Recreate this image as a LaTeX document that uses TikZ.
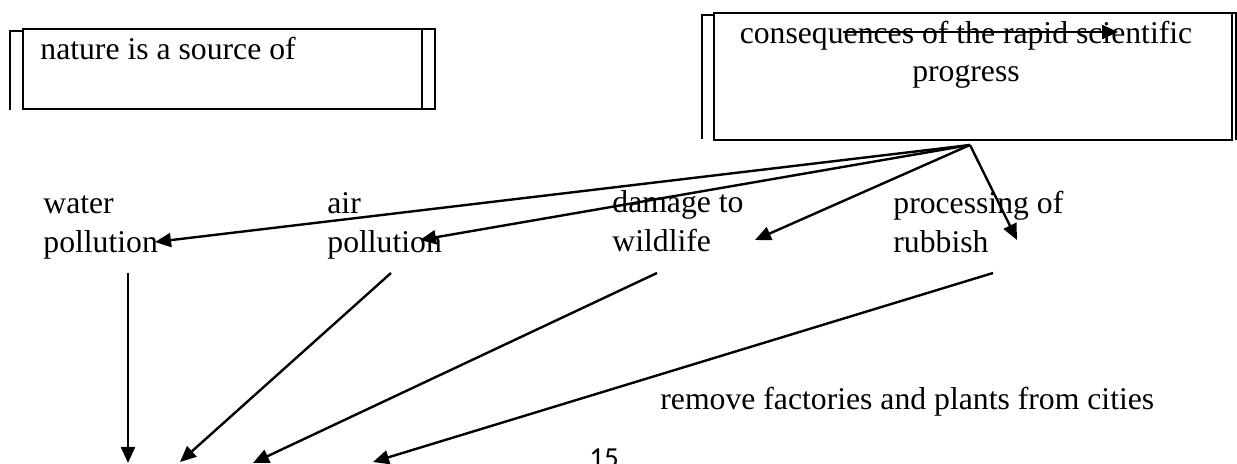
\documentclass[tikz,border=0pt]{standalone}
\usepackage{fontspec}
\setmainfont{Liberation Serif}
\newfontfamily\pagefont{Carlito}
\usetikzlibrary{arrows.meta}
\begin{document}
\begin{tikzpicture}[x=0.5pt,y=-0.5pt,
  boxline/.style={draw=black,line width=1.1pt},
  thinline/.style={draw=black,line width=0.9pt},
  conn/.style={draw=black,line width=1.2pt,-{Triangle[length=8pt,width=7pt]}},
  lbl/.style={inner sep=0pt,anchor=base west,align=left,font=\fontsize{15.85}{19.5}\selectfont},
  clbl/.style={inner sep=0pt,anchor=base,align=center,font=\fontsize{15.85}{19}\selectfont}]
\useasboundingbox (0,0) rectangle (1237,464);
% left box
\draw[boxline] (23,29) rectangle (435,109);
\draw[boxline] (23,29) -- (435,29);
\draw[thinline] (422,29) -- (422,109);
\draw[thinline] (23,31) -- (10,31) -- (10,110);
\node[lbl] (nature) at (40,60) {nature is a source of};
% right box
\draw[boxline] (714,13) rectangle (1232,140);
\draw[thinline] (1232,13) -- (1237,13) (1236,13) -- (1236,140);
\draw[thinline] (714,15) -- (702,15) -- (702,139);
\node[clbl] (cons) at (966,82) {consequences of the rapid scientific\\progress};
% labels
\node[lbl] (water) at (43,253) {water\\pollution};
\node[lbl] (air) at (327,253) {air\\pollution};
\node[lbl] (damage) at (612,252) {damage to\\wildlife};
\node[lbl] (proc) at (893,253) {processing of\\rubbish};
\node[lbl] (remove) at (660,410) {remove factories and plants from cities};
\node[inner sep=0pt,anchor=base west,font=\pagefont\fontsize{14.5}{17}\selectfont] (page) at (589,468) {15};
% coordinates
\coordinate (apex) at (970,145);
\coordinate (twater) at (155,242);
\coordinate (tair) at (420,240);
\coordinate (twild) at (755,240);
\coordinate (trub) at (1017,240);
\coordinate (sa) at (843,32);
\coordinate (sb) at (1118,32);
\coordinate (w1) at (128,273);
\coordinate (w2) at (128,463);
\coordinate (a1) at (391,273);
\coordinate (a2) at (180,462);
\coordinate (d1) at (657,273);
\coordinate (d2) at (253,463);
\coordinate (r1) at (993,273);
\coordinate (r2) at (373,462);
% connectors
\draw[conn] (apex) -- (twater);
\draw[conn] (apex) -- (tair);
\draw[conn] (apex) -- (twild);
\draw[conn] (apex) -- (trub);
\draw[conn] (sa) -- (sb);
\draw[conn] (w1) -- (w2);
\draw[conn] (a1) -- (a2);
\draw[conn] (d1) -- (d2);
\draw[conn] (r1) -- (r2);
\end{tikzpicture}
\end{document}
